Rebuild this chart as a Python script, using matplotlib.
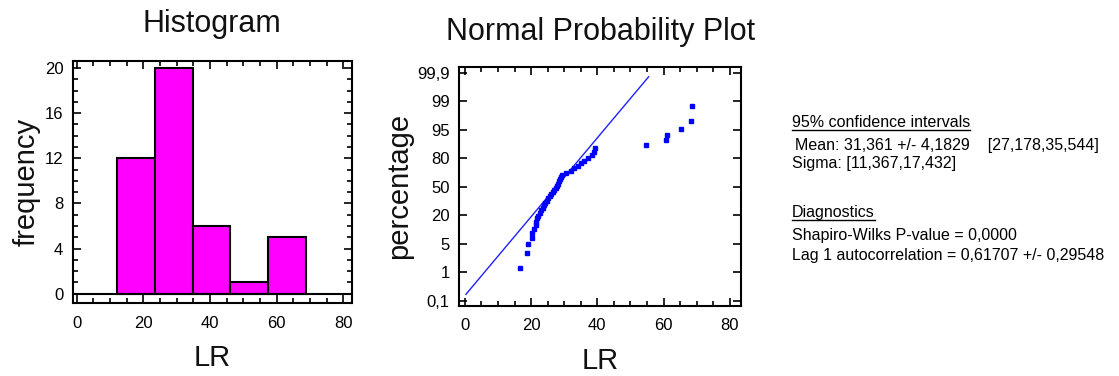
import numpy as np
import matplotlib
matplotlib.use("Agg")
import matplotlib.pyplot as plt
from matplotlib.lines import Line2D
from matplotlib.ticker import MultipleLocator, FixedLocator, FixedFormatter
from statistics import NormalDist

plt.rcParams['font.family'] = ['Liberation Sans', 'DejaVu Sans']

# ---------------- data ----------------
# histogram of LR
hist_edges = [12.2, 23.5, 34.8, 46.1, 57.4, 68.7]
hist_counts = [12, 20, 6, 1, 5]

lr_values = [16.6, 18.7, 19.2, 20.2, 20.4, 20.8, 21.6, 21.6, 21.8, 22.1, 22.7, 23.0,
             23.6, 23.9, 24.2, 24.8, 25.2, 25.7, 26.0, 26.6, 26.9, 27.5, 27.8, 28.1,
             28.4, 28.7, 29.0, 29.3, 30.5, 32.0, 32.9, 34.1, 35.0, 36.0, 37.2, 38.4,
             39.0, 39.3, 54.6, 60.6, 60.9, 65.3, 68.3, 68.6]

# reference line of the probability plot (centre and spread)
line_center = 27.6
line_sigma = 9.37

prob_tick_labels = ['0,1', '1', '5', '20', '50', '80', '95', '99', '99,9']
hist_xticks = [0, 20, 40, 60, 80]
hist_yticks = [0, 4, 8, 12, 16, 20]

stats_lines = [
    "95% confidence intervals",
    "Mean: 31,361 +/- 4,1829    [27,178,35,544]",
    "Sigma: [11,367,17,432]",
    "Diagnostics",
    "Shapiro-Wilks P-value = 0,0000",
    "Lag 1 autocorrelation = 0,61707 +/- 0,29548",
]

# ---------------- figure ----------------
W, H = 1119, 376
fig = plt.figure(figsize=(W / 100, H / 100), dpi=100)

def frac_box(l, r, t, b):
    return [l / W, 1 - b / H, (r - l) / W, (b - t) / H]

TICK_FS = 12
TITLE_FS = 22
LABEL_FS = 21

# ---- Histogram ----
ax1 = fig.add_axes(frac_box(73, 351.7, 61, 303))
lefts = hist_edges[:-1]
widths = np.diff(hist_edges)
ax1.bar(lefts, hist_counts, width=widths, align='edge', color='#FF00FF',
        edgecolor='black', linewidth=1.5, zorder=2)
ax1.axhline(0, color='black', lw=1.5, zorder=3)
ax1.set_xlim(-1.1, 82.5)
ax1.set_ylim(-0.82, 20.62)
ax1.set_xticks(hist_xticks)
ax1.set_yticks(hist_yticks)
ax1.xaxis.set_minor_locator(MultipleLocator(5))
ax1.yaxis.set_minor_locator(MultipleLocator(1))
ax1.tick_params(which='both', direction='in', top=True, right=True, width=1.2,
                labelsize=TICK_FS)
ax1.tick_params(axis='x', pad=9)
ax1.tick_params(axis='y', pad=7)
ax1.tick_params(which='major', length=6)
ax1.tick_params(which='minor', length=3.5)
for s in ax1.spines.values():
    s.set_linewidth(1.5)
ax1.set_title("Histogram", fontsize=TITLE_FS, pad=21, color='#111111')
ax1.set_xlabel("LR", fontsize=LABEL_FS, labelpad=10, color='#111111')
ax1.set_ylabel("frequency", fontsize=LABEL_FS, labelpad=3, color='#111111')

# ---- Normal probability plot ----
nd = NormalDist()

def _fwd(v):
    if not np.isfinite(v):
        return np.nan
    if v <= 0:
        return -10.0
    if v >= 100:
        return 10.0
    return nd.inv_cdf(v / 100.0)

def _inv(z):
    if not np.isfinite(z):
        return np.nan
    return 100.0 * nd.cdf(z)

fwd = np.vectorize(_fwd, otypes=[float])
inv = np.vectorize(_inv, otypes=[float])

ax2 = fig.add_axes(frac_box(459.3, 741, 66.7, 306))
ax2.set_yscale('function', functions=(fwd, inv))

n = len(lr_values)
ranks = np.arange(1, n + 1)
pct = 100.0 * (ranks - 0.375) / (n + 0.25)

zmax = nd.inv_cdf(0.999)
line_z = np.array([-2.913, 2.978])
line_x = line_center + line_sigma * line_z
line_p = 100.0 * np.array([nd.cdf(z) for z in line_z])
ax2.plot(line_x, line_p, color='#2020FF', lw=1.0, zorder=2)
ax2.plot(lr_values, pct, linestyle='none', marker='s', markersize=3.4,
         color='#0000FF', zorder=3)

ax2.set_xlim(-1.7, 83.4)
ax2.set_ylim(_inv(-3.23), _inv(3.25))
tick_pos = [_inv(k * zmax / 4) for k in range(-4, 5)]
ax2.yaxis.set_major_locator(FixedLocator(tick_pos))
ax2.yaxis.set_major_formatter(FixedFormatter(prob_tick_labels))
ax2.yaxis.set_minor_locator(FixedLocator([]))
ax2.set_xticks(hist_xticks)
ax2.xaxis.set_minor_locator(MultipleLocator(5))
ax2.tick_params(which='both', direction='in', top=True, right=True, width=1.2,
                labelsize=TICK_FS)
ax2.tick_params(axis='x', pad=9)
ax2.tick_params(axis='y', pad=7)
ax2.tick_params(which='major', length=6)
ax2.tick_params(which='minor', length=3.5)
for s in ax2.spines.values():
    s.set_linewidth(1.5)
ax2.set_title("Normal Probability Plot", fontsize=TITLE_FS, pad=19, color='#111111')
ax2.set_xlabel("LR", fontsize=LABEL_FS, labelpad=10, color='#111111')
ax2.set_ylabel("percentage", fontsize=LABEL_FS, labelpad=3, color='#111111')

# ---- statistics text ----
baselines = [127, 150, 168, 217, 240, 260]
xs = [792, 795, 792, 792, 792, 792]
underlined = [True, False, False, True, False, False]
fig.canvas.draw()
renderer = fig.canvas.get_renderer()
for txt, yb, xx, ul in zip(stats_lines, baselines, xs, underlined):
    t = fig.text(xx / W, 1 - yb / H, txt, fontsize=11.5, va='baseline', ha='left',
                 color='black')
    if ul:
        bb = t.get_window_extent(renderer=renderer)
        yl = 1 - (yb + 3) / H
        fig.add_artist(Line2D([bb.x0 / W, bb.x1 / W], [yl, yl], color='black',
                              lw=1.0, transform=fig.transFigure))

fig.savefig("out.png", dpi=100)
